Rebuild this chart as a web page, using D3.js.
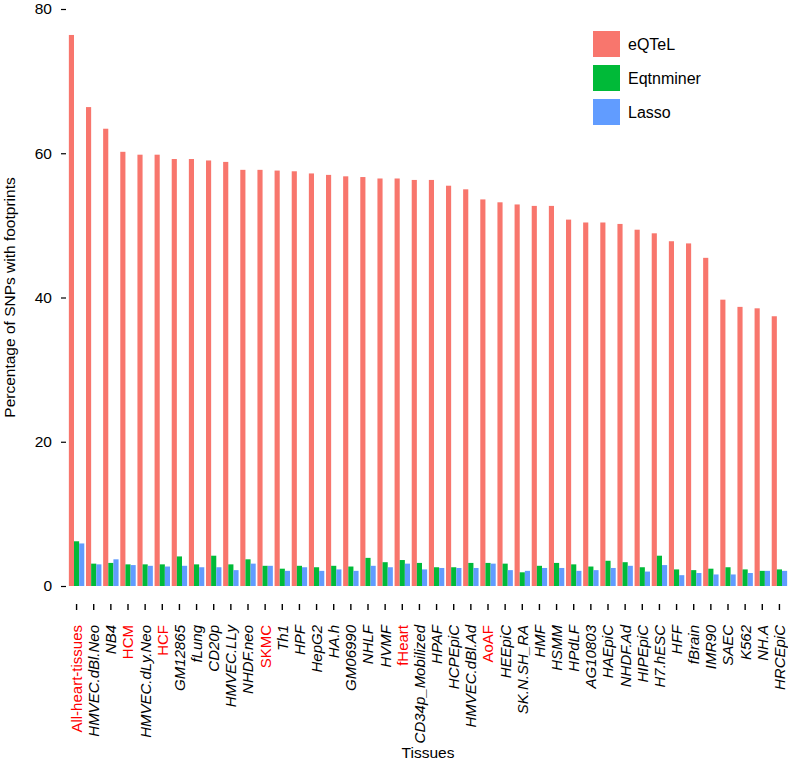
<!DOCTYPE html>
<html>
<head>
<meta charset="utf-8">
<script src="https://cdn.jsdelivr.net/npm/d3@7"></script>
<style>
  body { margin: 0; background: #fff; }
  text { font-family: "Liberation Sans", Arial, Helvetica, sans-serif; }
</style>
</head>
<body>
<div id="chart"></div>
<script>
var tissues = ["All-heart-tissues", "HMVEC.dBl.Neo", "NB4", "HCM", "HMVEC.dLy.Neo", "HCF",
  "GM12865", "fLung", "CD20p", "HMVEC.LLy", "NHDF.neo", "SKMC", "Th1", "HPF", "HepG2",
  "HA.h", "GM06990", "NHLF", "HVMF", "fHeart", "CD34p_Mobilized", "HPAF", "HCPEpiC",
  "HMVEC.dBl.Ad", "AoAF", "HEEpiC", "SK.N.SH_RA", "HMF", "HSMM", "HPdLF", "AG10803",
  "HAEpiC", "NHDF.Ad", "HIPEpiC", "H7.hESC", "HFF", "fBrain", "IMR90", "SAEC", "K562",
  "NH.A", "HRCEpiC"];
// heart tissues are drawn in red
var heartTissues = ["All-heart-tissues", "HCM", "HCF", "SKMC", "fHeart", "AoAF"];

var eqtel = [76.4, 66.4, 63.4, 60.2, 59.8, 59.8, 59.2, 59.2, 59.0, 58.8, 57.7, 57.7, 57.6,
  57.5, 57.2, 57.0, 56.8, 56.7, 56.5, 56.5, 56.3, 56.3, 55.5, 55.0, 53.6, 53.2, 52.9, 52.7,
  52.7, 50.8, 50.4, 50.4, 50.2, 49.4, 48.9, 47.8, 47.5, 45.5, 39.7, 38.7, 38.5, 37.4];
var eqtnminer = [6.2, 3.1, 3.2, 3.0, 3.0, 3.0, 4.1, 3.0, 4.2, 3.0, 3.7, 2.8, 2.4, 2.8, 2.6,
  2.8, 2.7, 3.9, 3.3, 3.6, 3.2, 2.6, 2.6, 3.2, 3.2, 3.1, 1.9, 2.8, 3.2, 3.0, 2.7, 3.5, 3.3,
  2.6, 4.2, 2.3, 2.2, 2.4, 2.6, 2.3, 2.1, 2.3];
var lasso = [5.9, 3.0, 3.7, 2.9, 2.8, 2.7, 2.8, 2.6, 2.6, 2.2, 3.1, 2.8, 2.1, 2.6, 2.1, 2.3,
  2.1, 2.8, 2.6, 3.1, 2.3, 2.5, 2.5, 2.5, 3.1, 2.2, 2.1, 2.5, 2.5, 2.1, 2.2, 2.5, 2.8, 2.0,
  2.9, 1.5, 1.8, 1.6, 1.6, 1.8, 2.1, 2.1];

var methods = ["eQTeL", "Eqtnminer", "Lasso"];
var colors = ["#F8766D", "#00BA38", "#619CFF"];
var yTicks = [0, 20, 40, 60, 80];

var W = 788, H = 765;
var margin = {top: 9, right: 0, bottom: 179, left: 68};

var svg = d3.select("#chart").append("svg")
  .attr("width", W)
  .attr("height", H);

var x = d3.scaleBand()
  .domain(tissues)
  .range([margin.left, W - margin.right])
  .paddingInner(0.1)
  .paddingOuter(0.05);

var xInner = d3.scaleBand()
  .domain(methods)
  .range([0, x.bandwidth()]);

var y = d3.scaleLinear()
  .domain([0, 80])
  .range([H - margin.bottom, margin.top]);

var color = d3.scaleOrdinal().domain(methods).range(colors);

var rows = tissues.map(function(t, i) {
  return {tissue: t, values: [eqtel[i], eqtnminer[i], lasso[i]]};
});

// bars
var groups = svg.append("g").selectAll("g")
  .data(rows)
  .enter().append("g")
  .attr("transform", function(d) { return "translate(" + x(d.tissue) + ",0)"; });

groups.selectAll("rect")
  .data(function(d) {
    return d.values.map(function(v, j) { return {method: methods[j], value: v}; });
  })
  .enter().append("rect")
  .attr("x", function(d) { return xInner(d.method); })
  .attr("width", xInner.bandwidth())
  .attr("y", function(d) { return y(d.value); })
  .attr("height", function(d) { return y(0) - y(d.value); })
  .attr("fill", function(d) { return color(d.method); });

// y axis (ticks only, set off from the panel)
var yAxis = svg.append("g")
  .attr("transform", "translate(" + (margin.left - 1) + ",0)")
  .call(d3.axisLeft(y).tickValues(yTicks).tickSize(5).tickPadding(10));
yAxis.select(".domain").remove();
yAxis.selectAll(".tick line").attr("stroke", "#000").attr("stroke-width", 1.2)
  .attr("x2", -6).attr("x1", -1);
yAxis.selectAll(".tick text")
  .attr("font-size", 15.5)
  .attr("fill", "#000");

// x axis
var xAxis = svg.append("g")
  .attr("transform", "translate(0," + (H - margin.bottom + 18) + ")")
  .call(d3.axisBottom(x).tickSize(6).tickPadding(12));
xAxis.select(".domain").remove();
xAxis.selectAll(".tick line").attr("stroke", "#000").attr("stroke-width", 1.4);
xAxis.selectAll(".tick text")
  .attr("font-size", 15)
  .attr("text-anchor", "end")
  .attr("transform", "rotate(-90)")
  .attr("x", -21)
  .attr("y", 0)
  .attr("dy", "0.36em")
  .attr("fill", function(d) { return heartTissues.indexOf(d) >= 0 ? "#FF0000" : "#000"; })
  .attr("font-style", function(d) { return heartTissues.indexOf(d) >= 0 ? "normal" : "italic"; });

// axis titles
svg.append("text")
  .attr("transform", "translate(15," + ((y(0) + y(80)) / 2) + ") rotate(-90)")
  .attr("text-anchor", "middle")
  .attr("font-size", 15.5)
  .text("Percentage of SNPs with footprints");

svg.append("text")
  .attr("x", (margin.left + W) / 2)
  .attr("y", 758)
  .attr("text-anchor", "middle")
  .attr("font-size", 15.5)
  .text("Tissues");

// legend
var legend = svg.append("g").attr("transform", "translate(593,31)");
var li = legend.selectAll("g")
  .data(methods)
  .enter().append("g")
  .attr("transform", function(d, i) { return "translate(0," + (i * 34) + ")"; });
li.append("rect")
  .attr("width", 27)
  .attr("height", 26)
  .attr("fill", function(d) { return color(d); });
li.append("text")
  .attr("x", 35)
  .attr("y", 13)
  .attr("dy", "0.36em")
  .attr("font-size", 16)
  .text(function(d) { return d; });
</script>
</body>
</html>
